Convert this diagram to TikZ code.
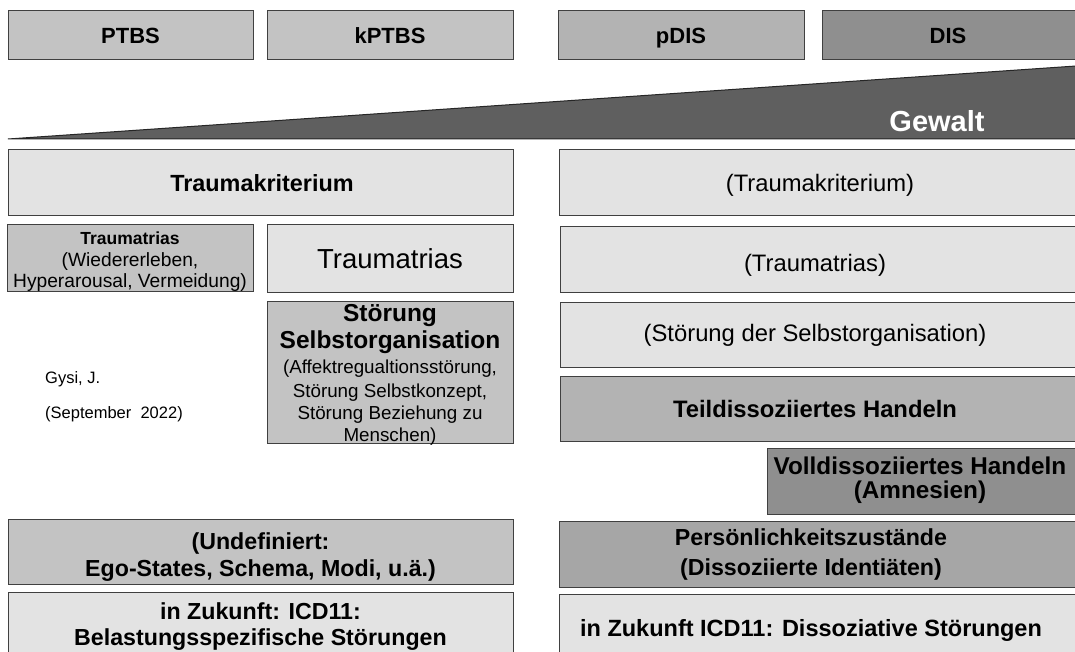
\documentclass[tikz,border=0pt]{standalone}
\usepackage{fontspec}
\setmainfont{Liberation Sans}
\definecolor{edge}{HTML}{404040}
\definecolor{paleFill}{HTML}{E3E3E3}
\definecolor{lightFill}{HTML}{C3C3C3}
\definecolor{midFill}{HTML}{B3B3B3}
\definecolor{persFill}{HTML}{A6A6A6}
\definecolor{darkFill}{HTML}{8F8F8F}
\definecolor{wedgeFill}{HTML}{5F5F5F}
\tikzset{
  panel/.style={draw=edge, line width=1pt},
  ln/.style={anchor=base, inner sep=0pt},
  head/.style={ln, font=\fontsize{22}{26}\selectfont\bfseries},
  bold/.style={ln, font=\fontsize{23.2}{27}\selectfont\bfseries},
  bolder/.style={ln, font=\fontsize{23.8}{27}\selectfont\bfseries},
  plain/.style={ln, font=\fontsize{23.8}{27}\selectfont},
  small/.style={ln, font=\fontsize{18.8}{22}\selectfont},
  note/.style={ln, anchor=base west, font=\fontsize{16.5}{20}\selectfont},
}
\begin{document}
\begin{tikzpicture}[x=1pt,y=-1pt]
\useasboundingbox (0,0) rectangle (1075,652);
\clip (0,0) rectangle (1075,652);
\fill[white] (0,0) rectangle (1075,652);

% diagnosis headers
\path[panel, fill=lightFill] (8,10.5) rectangle (253,59.5);
\path[panel, fill=lightFill] (267,10.5) rectangle (513,59.5);
\path[panel, fill=midFill]   (558,10.5) rectangle (804,59.5);
\path[panel, fill=darkFill]  (822,10.5) rectangle (1085,59.5);
\node[head] (ptbs)  at (130.5,43.5) {PTBS};
\node[head] (kptbs) at (390,43.5)   {kPTBS};
\node[head] (pdis)  at (681,43.5)   {pDIS};
\node[head] (dis)   at (948,43.5)   {DIS};

% rising wedge of violence
\path[fill=wedgeFill, draw=black!85, line width=1pt] (8,139) -- (1076,66) -- (1076,139) -- cycle;
\node[ln, text=white, font=\fontsize{29}{32}\selectfont\bfseries] (gewalt) at (937,132) {Gewalt};

% left column
\path[panel, fill=paleFill] (8,150) rectangle (513,216);
\node[bold, font=\fontsize{23.4}{27}\selectfont\bfseries] (krit) at (262,192) {Traumakriterium};

\path[panel, fill=lightFill] (7,225) rectangle (253,291);
\node[ln, font=\fontsize{17.5}{21}\selectfont\bfseries] (triasA) at (130,244) {Traumatrias};
\node[small, font=\fontsize{19.2}{22}\selectfont] (triasA2) at (130,266) {(Wiedererleben,};
\node[small, font=\fontsize{19.2}{22}\selectfont] (triasA3) at (130,287) {Hyperarousal, Vermeidung)};

\path[panel, fill=paleFill] (267,225) rectangle (513,292);
\node[ln, font=\fontsize{27.5}{32}\selectfont] (triasB) at (390,268) {Traumatrias};

\path[panel, fill=lightFill] (267,301) rectangle (513,443);
\node[bolder, font=\fontsize{24.5}{27}\selectfont\bfseries] (selbst1) at (390,321) {Störung};
\node[bolder, font=\fontsize{24.5}{27}\selectfont\bfseries] (selbst2) at (390,348) {Selbstorganisation};
\node[small] (selbst3) at (390,373) {(Affektregualtionsstörung,};
\node[small] (selbst4) at (390,397) {Störung Selbstkonzept,};
\node[small] (selbst5) at (390,419) {Störung Beziehung zu};
\node[small] (selbst6) at (390,441) {Menschen)};

\node[note] (autor) at (45,383) {Gysi, J.};
\node[note] (datum) at (45,418) {(September\ \ 2022)};

\path[panel, fill=lightFill] (8,519) rectangle (513,584);
\node[bold] (undef1) at (260.5,549) {(Undefiniert:};
\node[bold] (undef2) at (260.5,576) {Ego-States, Schema, Modi, u.ä.)};

\path[panel, fill=paleFill] (8,592) rectangle (513,670);
\node[bold] (icdA1) at (260.5,619) {in Zukunft: ICD11:};
\node[bold] (icdA2) at (260.5,645) {Belastungsspezifische Störungen};

% right column
\path[panel, fill=paleFill] (559,150) rectangle (1085,216);
\node[plain] (kritR) at (820,192) {(Traumakriterium)};
\path[panel, fill=paleFill] (560,227) rectangle (1085,292);
\node[plain] (triasR) at (815,271) {(Traumatrias)};
\path[panel, fill=paleFill] (560,302) rectangle (1085,367);
\node[plain] (selbstR) at (815,341) {(Störung der Selbstorganisation)};
\path[panel, fill=midFill] (560,376) rectangle (1085,441);
\node[bolder] (teil) at (815,417) {Teildissoziiertes Handeln};
\path[panel, fill=darkFill] (767,448) rectangle (1085,514);
\node[bolder, font=\fontsize{24.3}{27}\selectfont\bfseries] (voll1) at (920,474) {Volldissoziiertes Handeln};
\node[bolder, font=\fontsize{24.3}{27}\selectfont\bfseries] (voll2) at (920,498) {(Amnesien)};
\path[panel, fill=persFill] (559,521) rectangle (1085,587);
\node[bold] (pers1) at (811,545) {Persönlichkeitszustände};
\node[bold] (pers2) at (811,575) {(Dissoziierte Identiäten)};
\path[panel, fill=paleFill] (559,594) rectangle (1085,670);
\node[bold, font=\fontsize{23.5}{27}\selectfont\bfseries] (icdB) at (811,636) {in Zukunft ICD11: Dissoziative Störungen};
\end{tikzpicture}
\end{document}
